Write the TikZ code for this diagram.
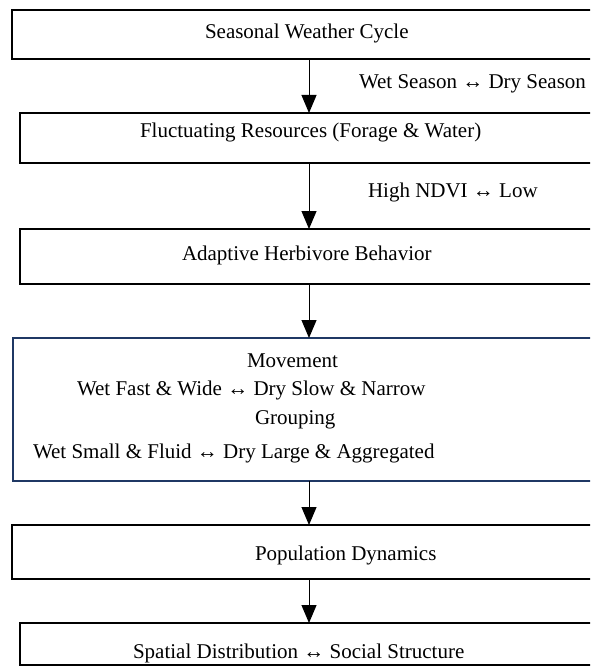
\documentclass[tikz,border=0pt]{standalone}
\usepackage{fontspec}
\setmainfont{Liberation Serif}
\usetikzlibrary{arrows.meta}
\definecolor{navy}{HTML}{1F3864}
\tikzset{
  box/.style={draw=black, line width=2pt, rectangle, inner sep=0pt, outer sep=0pt},
  bluebox/.style={draw=navy, line width=1.6pt, rectangle, inner sep=0pt, outer sep=0pt},
  txt/.style={inner sep=0pt, outer sep=0pt, font=\fontsize{21}{25}\selectfont, anchor=base west},
  flow/.style={line width=1pt, -{Triangle[length=18pt,width=15pt]}}
}
\begin{document}
\begin{tikzpicture}[x=1pt,y=-1pt]
\useasboundingbox (0,0) rectangle (590,666);
\clip (0,0) rectangle (590,666);
\fill[white] (0,0) rectangle (590,666);
% boxes (centred on the arrow line x = 309, running past the right edge)
\node[box, minimum width=594pt, minimum height=49pt] (b1) at (309,34.5) {};
\node[box, minimum width=578pt, minimum height=50pt] (b2) at (309,138) {};
\node[box, minimum width=578pt, minimum height=55pt] (b3) at (309,256.5) {};
\node[bluebox, minimum width=592pt, minimum height=143pt] (b4) at (309,409.5) {};
\node[box, minimum width=594pt, minimum height=54pt] (b5) at (309,552) {};
\node[box, minimum width=578pt, minimum height=42pt] (b6) at (309,644) {};
% texts
\node[txt] (t1) at (205,39) {Seasonal Weather Cycle};
\node[txt] (l1) at (359,89) {Wet Season ↔ Dry Season};
\node[txt] (t2) at (140,137) {Fluctuating Resources (Forage \& Water)};
\node[txt] (l2) at (368,197) {High NDVI ↔ Low};
\node[txt] (t3) at (182,260) {Adaptive Herbivore Behavior};
\node[txt] (t4a) at (247,367) {Movement};
\node[txt] (t4b) at (77,395) {Wet Fast \& Wide ↔ Dry Slow \& Narrow};
\node[txt] (t4c) at (255,424) {Grouping};
\node[txt] (t4d) at (33,458) {Wet Small \& Fluid ↔ Dry Large \& Aggregated};
\node[txt] (t5) at (255,560) {Population Dynamics};
\node[txt] (t6) at (133,658) {Spatial Distribution ↔ Social Structure};
% connectors
\draw[flow] (b1.south) -- (b2.north);
\draw[flow] (b2.south) -- (b3.north);
\draw[flow] (b3.south) -- (b4.north);
\draw[flow] (b4.south) -- (b5.north);
\draw[flow] (b5.south) -- (b6.north);
\end{tikzpicture}
\end{document}
